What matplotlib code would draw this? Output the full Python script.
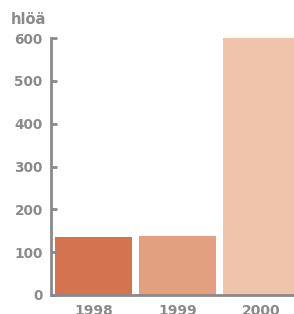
import matplotlib.pyplot as plt

years = ["1998", "1999", "2000"]
values = [135, 138, 600]
colors = ["#D47350", "#E2A07E", "#EFC4AB"]
yticks = [0, 100, 200, 300, 400, 500, 600]

grey = "#8a8a8a"

fig = plt.figure(figsize=(2.94, 3.14), dpi=100)
ax = fig.add_axes([51 / 294, 1 - 295 / 314, 1 - 51 / 294, (295 - 38) / 314])

ax.bar(range(len(years)), values, width=0.92, color=colors)
ax.set_xlim(-0.506, 2.387)
ax.set_ylim(0, 600)

ax.set_yticks(yticks)
ax.set_xticks(range(len(years)))
ax.set_xticklabels(years)
ax.tick_params(axis="y", direction="in", length=4, width=2, color=grey,
               labelcolor=grey, labelsize=9.8, pad=6)
ax.tick_params(axis="x", length=0, labelcolor=grey, labelsize=10, pad=6.5)
for lab in ax.get_xticklabels() + ax.get_yticklabels():
    lab.set_fontweight("bold")

for s in ["top", "right"]:
    ax.spines[s].set_visible(False)
for s in ["left", "bottom"]:
    ax.spines[s].set_color(grey)
    ax.spines[s].set_linewidth(2)

fig.text(11 / 294, 1 - 19 / 314, "hlöä", color=grey, fontsize=10.5,
         fontweight="bold", ha="left", va="center")

fig.savefig("out.png", dpi=100)
